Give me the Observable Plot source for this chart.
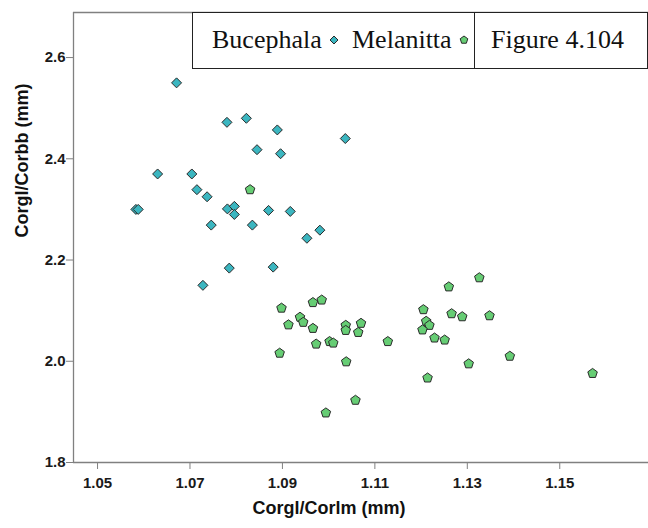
<!DOCTYPE html>
<html>
<head>
<meta charset="utf-8">
<script src="https://cdn.jsdelivr.net/npm/d3@7"></script>
<script src="https://cdn.jsdelivr.net/npm/@observablehq/plot@0.6"></script>
<style>
  html, body { margin: 0; padding: 0; background: #fff; }
  #chart { position: relative; width: 648px; height: 528px; }
</style>
</head>
<body>
<div id="chart"></div>
<script>
// ---- data ----
const bucephalaX = [1.0671, 1.0780, 1.0822, 1.0889, 1.1036, 1.0845, 1.0896, 1.0630, 1.0704, 1.0715,
                    1.0737, 1.0583, 1.0588, 1.0781, 1.0796, 1.0796, 1.0870, 1.0917, 1.0746, 1.0835,
                    1.0981, 1.0953, 1.0785, 1.0880, 1.0728];
const bucephalaY = [2.550, 2.472, 2.480, 2.457, 2.440, 2.418, 2.410, 2.370, 2.370, 2.339,
                    2.325, 2.300, 2.300, 2.301, 2.306, 2.290, 2.298, 2.296, 2.269, 2.269,
                    2.259, 2.243, 2.184, 2.186, 2.150];
const melanittaX = [1.0830, 1.1260, 1.1326, 1.0898, 1.0966, 1.0985, 1.0938, 1.0945, 1.0913, 1.0966,
                    1.1037, 1.1037, 1.1070, 1.1064, 1.0973, 1.1002, 1.1010, 1.0894, 1.1038, 1.1128,
                    1.1058, 1.0994, 1.1205, 1.1211, 1.1218, 1.1203, 1.1229, 1.1251, 1.1266, 1.1289,
                    1.1348, 1.1392, 1.1303, 1.1214, 1.1571];
const melanittaY = [2.339, 2.147, 2.165, 2.105, 2.116, 2.121, 2.087, 2.077, 2.072, 2.065,
                    2.071, 2.061, 2.075, 2.057, 2.034, 2.039, 2.036, 2.016, 1.999, 2.039,
                    1.923, 1.898, 2.102, 2.079, 2.071, 2.062, 2.046, 2.042, 2.094, 2.088,
                    2.090, 2.010, 1.995, 1.967, 1.976];
const xTicks = [1.05, 1.07, 1.09, 1.11, 1.13, 1.15];
const yTicks = [1.8, 2.0, 2.2, 2.4, 2.6];
const xDomain = [1.0448, 1.1692];
const yDomain = [1.8, 2.689];
const seriesNames = ["Bucephala", "Melanitta"];
const xTitle = "Corgl/Corlm (mm)";
const yTitle = "Corgl/Corbb (mm)";
const figureLabel = "Figure 4.104";

const colors = { Bucephala: "#3bb6c0", Melanitta: "#66cd74" };
const edge = "#2a2a2a";

// custom symbols
const diamondSym = {
  draw(ctx, size) {
    const r = Math.sqrt(size / Math.PI);
    ctx.moveTo(0, -r); ctx.lineTo(r, 0); ctx.lineTo(0, r); ctx.lineTo(-r, 0); ctx.closePath();
  }
};
const pentagonSym = {
  draw(ctx, size) {
    const r = Math.sqrt(size / Math.PI);
    for (let i = 0; i < 5; i++) {
      const a = -Math.PI / 2 + i * 2 * Math.PI / 5;
      const px = r * Math.cos(a), py = r * Math.sin(a);
      if (i === 0) ctx.moveTo(px, py); else ctx.lineTo(px, py);
    }
    ctx.closePath();
  }
};

const buc = bucephalaX.map((x, i) => ({ x, y: bucephalaY[i] }));
const mel = melanittaX.map((x, i) => ({ x, y: melanittaY[i] }));

const axisColor = "#808080";

const chart = Plot.plot({
  width: 648,
  height: 528,
  marginLeft: 73,
  marginRight: 0,
  marginTop: 12,
  marginBottom: 66,
  style: { fontFamily: "'Liberation Sans', Arial, sans-serif", fontSize: "15px", color: "#1a1a1a", background: "#fff" },
  x: { domain: xDomain },
  y: { domain: yDomain },
  marks: [
    Plot.ruleY([yDomain[0]], { stroke: axisColor, strokeWidth: 1.3 }),
    Plot.ruleY([yDomain[1]], { stroke: axisColor, strokeWidth: 1.3 }),
    Plot.ruleX([xDomain[0]], { stroke: axisColor, strokeWidth: 1.3 }),
    Plot.axisX({ ticks: xTicks, tickFormat: d => d.toFixed(2), tickSize: 7, tickPadding: 8, label: null, stroke: axisColor, fill: "#1a1a1a", fontSize: 15, fontWeight: "bold" }),
    Plot.axisY({ ticks: yTicks, tickFormat: d => d.toFixed(1), tickSize: 7, tickPadding: 1, label: null, stroke: axisColor, fill: "#1a1a1a", fontSize: 15, fontWeight: "bold" }),
    Plot.text([xTitle], { text: d => d, frameAnchor: "bottom", dx: -32, dy: 51, fontWeight: "bold", fontSize: 18, fill: "#111" }),
    Plot.text([yTitle], { text: d => d, frameAnchor: "left", rotate: -90, dx: -51, fontWeight: "bold", fontSize: 18, fill: "#111" }),
    Plot.dot(buc, { x: "x", y: "y", symbol: diamondSym, r: 5, fill: colors.Bucephala, stroke: edge, strokeWidth: 1 }),
    Plot.dot(mel, { x: "x", y: "y", symbol: pentagonSym, r: 5, fill: colors.Melanitta, stroke: edge, strokeWidth: 1 })
  ]
});
document.getElementById("chart").appendChild(chart);

// ---- legend boxes (overlaid at top right) ----
const svg = d3.select(chart);
const lg = svg.append("g")
  .attr("font-family", "'Liberation Serif', 'Times New Roman', serif")
  .attr("font-size", 26)
  .attr("text-anchor", "start")
  .attr("fill", "#111");
lg.append("rect").attr("x", 192.5).attr("y", 12.5).attr("width", 282).attr("height", 56).attr("fill", "#fff").attr("stroke", "#222");
lg.append("rect").attr("x", 474.5).attr("y", 12.5).attr("width", 173).attr("height", 56).attr("fill", "#fff").attr("stroke", "#222");
lg.append("text").attr("x", 212).attr("y", 48).text(seriesNames[0]);
lg.append("path").attr("transform", "translate(334,40)").attr("d", d3.symbol(diamondSym, Math.PI * 16)()).attr("fill", colors.Bucephala).attr("stroke", edge);
lg.append("text").attr("x", 352).attr("y", 48).text(seriesNames[1]);
lg.append("path").attr("transform", "translate(464,40)").attr("d", d3.symbol(pentagonSym, Math.PI * 16)()).attr("fill", colors.Melanitta).attr("stroke", edge);
lg.append("text").attr("x", 491).attr("y", 48).text(figureLabel);
</script>
</body>
</html>
